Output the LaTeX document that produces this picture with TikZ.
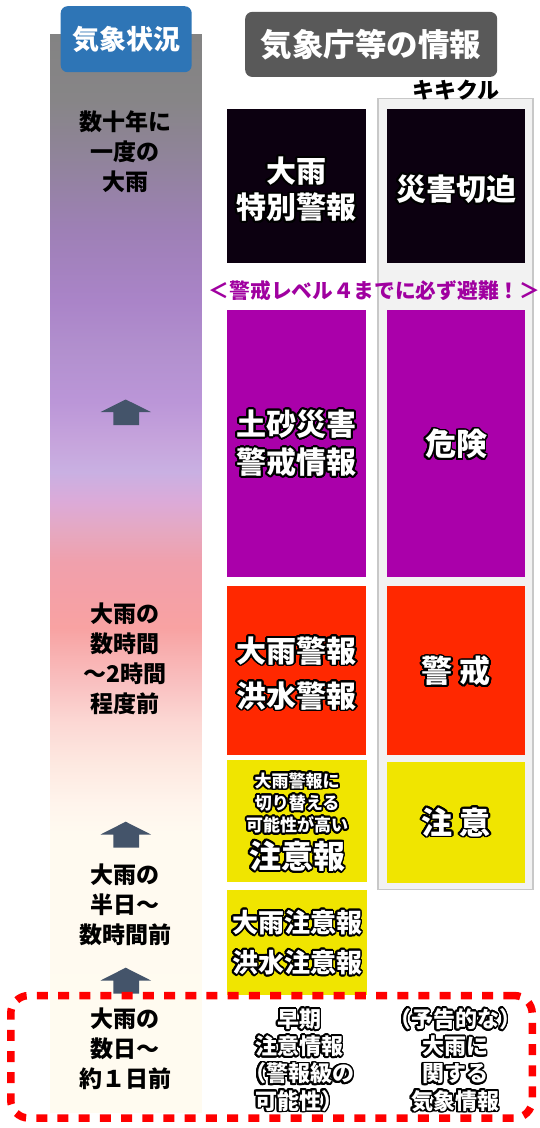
\documentclass[tikz,border=0pt]{standalone}
\usepackage{fontspec}
\setmainfont{Noto Sans CJK JP}
\usepackage[copies]{contour}
\contourlength{1.8pt}
\contournumber{24}
\definecolor{kblack}{HTML}{0C0010}
\definecolor{kpurple}{HTML}{AA00AA}
\definecolor{kred}{HTML}{FF2800}
\definecolor{kyellow}{HTML}{F0E500}
\definecolor{lblue}{HTML}{2E75B6}
\definecolor{lgray}{HTML}{595959}
\definecolor{arrowc}{HTML}{44546A}
\definecolor{kgray}{HTML}{F2F2F2}
\definecolor{kframe}{HTML}{C8C8C8}
\definecolor{ptext}{HTML}{A000A0}
\definecolor{dashred}{HTML}{FF0000}
\definecolor{b0}{HTML}{FFFBF0}
\definecolor{b1}{HTML}{FFFAF0}
\definecolor{b2}{HTML}{FFF4EC}
\definecolor{b3}{HTML}{FDE8E0}
\definecolor{b4}{HTML}{FCD8D4}
\definecolor{b5}{HTML}{F9C0C0}
\definecolor{b6}{HTML}{F8A2A2}
\definecolor{b7}{HTML}{F4A0A8}
\definecolor{b8}{HTML}{F0A0AC}
\definecolor{b9}{HTML}{E6A8C0}
\definecolor{b10}{HTML}{DCAAD8}
\definecolor{b11}{HTML}{C9B0E2}
\definecolor{b12}{HTML}{C6A4DC}
\definecolor{b13}{HTML}{BB96D8}
\definecolor{b14}{HTML}{B290CE}
\definecolor{b15}{HTML}{AA84C8}
\definecolor{b16}{HTML}{9E80B6}
\definecolor{b17}{HTML}{8F8498}
\definecolor{b18}{HTML}{878587}
\definecolor{b19}{HTML}{838383}
\pgfdeclareverticalshading{barshade}{151bp}{color(0bp)=(b0); color(278bp)=(b1); color(308bp)=(b2); color(348bp)=(b3); color(388bp)=(b4); color(428bp)=(b5); color(483bp)=(b6); color(523bp)=(b7); color(548bp)=(b8); color(578bp)=(b9); color(608bp)=(b10); color(638bp)=(b11); color(668bp)=(b12); color(708bp)=(b13); color(758bp)=(b14); color(808bp)=(b15); color(878bp)=(b16); color(958bp)=(b17); color(1008bp)=(b18); color(1075bp)=(b19)}
\newcommand{\glowtxt}[1]{\contour{black}{#1}}
\tikzset{
  infobox/.style={inner sep=0pt, anchor=north west},
  glowtext/.style={text=white, align=center, inner sep=0pt},
  lefttext/.style={text=black, align=center, inner sep=0pt, font=\bfseries\fontsize{23}{30}\selectfont},
  headlabel/.style={inner sep=0pt, anchor=north west, rounded corners=7pt, text=white, font=\bfseries},
  uparrow/.style={fill=arrowc},
}
\begin{document}
\begin{tikzpicture}[x=1pt,y=-1pt]
\useasboundingbox (0,0) rectangle (540,1128);
\fill[white] (0,0) rectangle (540,1128);

% weather situation bar
\node[inner sep=0pt, anchor=north west] (bar) at (50,33) {\pgfuseshading{barshade}};

% header labels
\node[headlabel, fill=lblue, minimum width=131pt, minimum height=66pt, font=\bfseries\fontsize{27}{30}\selectfont] (lbl1) at (60.5,6) {気象状況};
\node[headlabel, fill=lgray, minimum width=252pt, minimum height=65pt, font=\bfseries\fontsize{31.5}{34}\selectfont] (lbl2) at (245,11.7) {気象庁等の情報};

% kikikuru frame
\node[draw=kframe, fill=kgray, line width=1.5pt, inner sep=0pt, minimum width=155pt, minimum height=791pt, anchor=north west] (kframe) at (377,97.5) {};
\node[inner sep=0pt, font=\bfseries\fontsize{22}{24}\selectfont] (kikikuru) at (456,90) {キキクル};

% black row
\node[infobox, fill=kblack, minimum width=139pt, minimum height=154pt] (tokubetsu) at (227,109) {};
\node[glowtext, font=\bfseries\fontsize{30}{36.7}\selectfont] (tokubetsuT) at (296.5,190) {\glowtxt{大雨}\\\glowtxt{特別警報}};
\node[infobox, fill=kblack, minimum width=138pt, minimum height=154pt] (sekkin) at (387,109) {};
\node[glowtext, font=\bfseries\fontsize{30}{36}\selectfont] (sekkinT) at (456,190) {\glowtxt{災害切迫}};

% message
\node[inner sep=0pt, text=ptext, font=\bfseries\fontsize{20.7}{24}\selectfont] (hinan) at (374.5,291) {＜警戒レベル４までに必ず避難！＞};

% purple row
\node[infobox, fill=kpurple, minimum width=139pt, minimum height=267pt] (dosha) at (227,310) {};
\node[glowtext, font=\bfseries\fontsize{30}{38.3}\selectfont] (doshaT) at (296.5,444) {\glowtxt{土砂災害}\\\glowtxt{警戒情報}};
\node[infobox, fill=kpurple, minimum width=138pt, minimum height=267pt] (kiken) at (387,310) {};
\node[glowtext, font=\bfseries\fontsize{31}{36}\selectfont] (kikenT) at (456,445) {\glowtxt{危険}};

% red row
\node[infobox, fill=kred, minimum width=139pt, minimum height=169pt] (keiho) at (227,586) {};
\node[glowtext, font=\bfseries\fontsize{30}{45}\selectfont] (keihoT) at (296.5,674) {\glowtxt{大雨警報}\\\glowtxt{洪水警報}};
\node[infobox, fill=kred, minimum width=138pt, minimum height=169pt] (keikai) at (387,586) {};
\node[glowtext, font=\bfseries\fontsize{31}{36}\selectfont] (keikaiT) at (456,672) {\glowtxt{警 戒}};

% yellow rows
\node[infobox, fill=kyellow, minimum width=140pt, minimum height=122pt] (kirikae) at (227,760) {};
\node[glowtext, font=\bfseries\fontsize{17}{22.2}\selectfont] (kirikaeT) at (297,803.8) {\glowtxt{大雨警報に}\\\glowtxt{切り替える}\\\glowtxt{可能性が高い}};
\node[glowtext, font=\bfseries\fontsize{32}{36}\selectfont] (kirikaeU) at (297,857) {\glowtxt{注意報}};
\node[infobox, fill=kyellow, minimum width=138pt, minimum height=121pt] (chui) at (387,762) {};
\node[glowtext, font=\bfseries\fontsize{31}{36}\selectfont] (chuiT) at (456,823) {\glowtxt{注 意}};
\node[infobox, fill=kyellow, minimum width=140pt, minimum height=105pt] (chuiho) at (227,890) {};
\node[glowtext, font=\bfseries\fontsize{26}{40}\selectfont] (chuihoT) at (297,943.3) {\glowtxt{大雨注意報}\\\glowtxt{洪水注意報}};

% left texts
\node[lefttext] (sit1) at (125,151.7) {数十年に\\一度の\\大雨};
\node[lefttext] (sit2) at (125,659.2) {大雨の\\数時間\\～2時間\\程度前};
\node[lefttext] (sit3) at (125,904.4) {大雨の\\半日～\\数時間前};

% up arrows
\fill[uparrow] (125.7,399.5) -- (151,412) -- (139,412) -- (139,425) -- (113.3,425) -- (113.3,412) -- (100.5,412) -- cycle;
\fill[uparrow] (125.7,821.7) -- (151,834.5) -- (139,834.5) -- (139,847.5) -- (113.3,847.5) -- (113.3,834.5) -- (100.5,834.5) -- cycle;
\fill[uparrow] (125.7,967.7) -- (151,980.5) -- (139,980.5) -- (139,993.5) -- (113.3,993.5) -- (113.3,980.5) -- (100.5,980.5) -- cycle;

% early information dashed frame
\node[draw=dashred, line width=7.5pt, dash pattern=on 11pt off 10.2pt, rounded corners=18pt, inner sep=0pt, minimum width=521.5pt, minimum height=122.5pt] (early) at (271.5,1056.8) {};
\node[lefttext] (sit4) at (125,1048.3) {大雨の\\数日～\\約１日前};
\node[glowtext, font=\bfseries\fontsize{22}{27.2}\selectfont] (soki) at (299,1061) {\glowtxt{早期}\\\glowtxt{注意情報}\\\glowtxt{（警報級の}\\\glowtxt{可能性）}};
\node[glowtext, font=\bfseries\fontsize{22}{27.2}\selectfont] (yokoku) at (455,1061) {\glowtxt{（予告的な）}\\\glowtxt{大雨に}\\\glowtxt{関する}\\\glowtxt{気象情報}};
\end{tikzpicture}
\end{document}
